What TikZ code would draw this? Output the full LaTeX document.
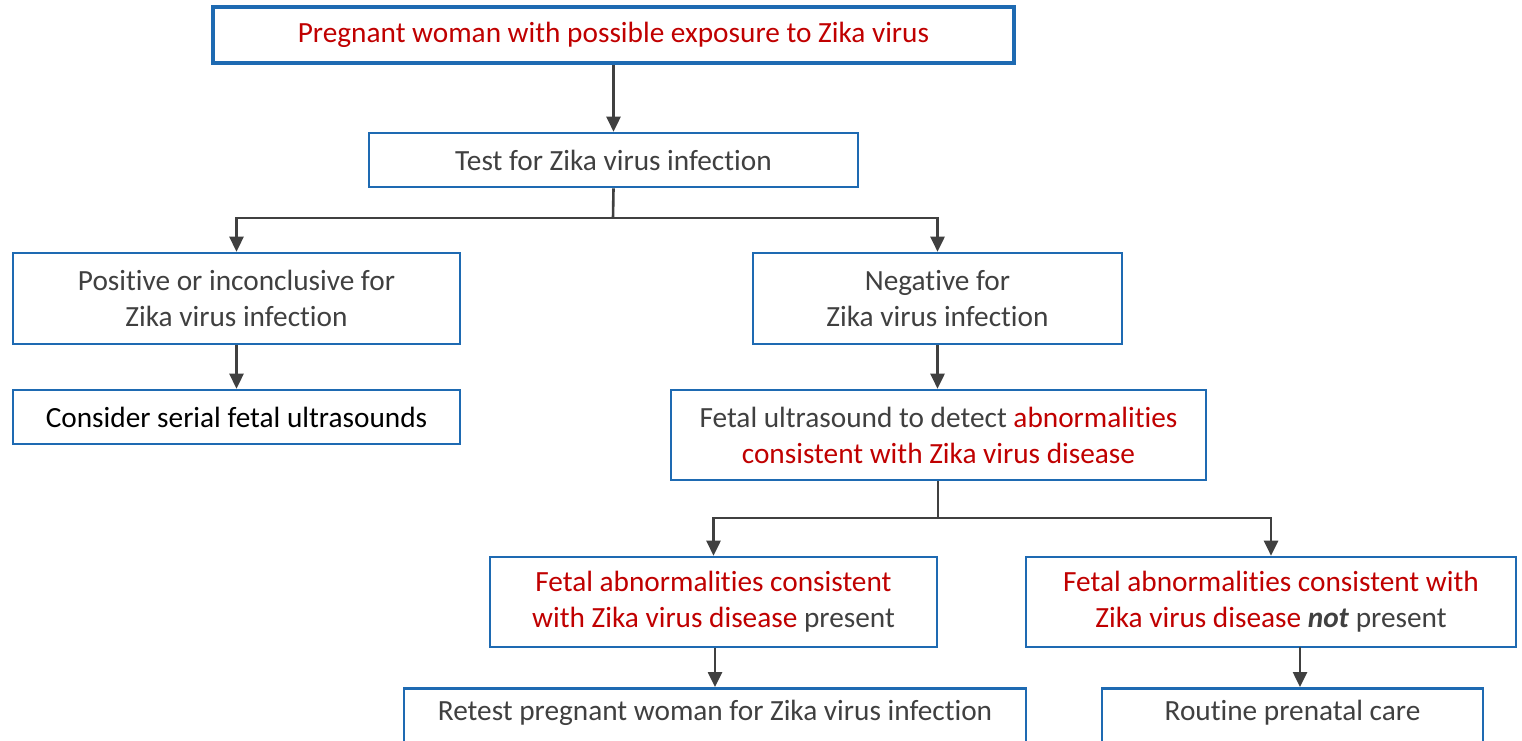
\documentclass[tikz,border=0pt]{standalone}
\usepackage{fontspec}
\setmainfont{Carlito}[Ligatures=NoCommon]
\usetikzlibrary{arrows.meta,positioning}
\definecolor{bblue}{RGB}{30,106,178}
\definecolor{zred}{RGB}{192,0,0}
\definecolor{tgray}{RGB}{64,64,64}
\definecolor{agray}{RGB}{64,64,64}
\tikzset{
  box/.style={draw=bblue, line width=2.6pt, rectangle, inner sep=0pt, align=center,
    text=tgray, font=\fontsize{29.3}{36}\selectfont, fill=white},
  topbox/.style={box, line width=4pt},
  arr/.style={draw=agray, line width=2.6pt, -{Triangle[width=14pt,length=15pt]}},
  conn/.style={draw=agray, line width=2.6pt}
}
\begin{document}
\begin{tikzpicture}[x=1pt,y=-1pt]
\clip (0,0) rectangle (1522,740);
\fill[white] (0,0) rectangle (1522,740);
\node[topbox, minimum width=801pt, minimum height=56pt] (top) at (613.5,35) {\textcolor{zred}{Pregnant woman with possible exposure to Zika virus}};
\node[box, minimum width=489pt, minimum height=54pt] (test) at (613.5,160) {Test for Zika virus infection};
\node[box, minimum width=447pt, minimum height=91pt] (pos) at (236.5,298.5) {Positive or inconclusive for\\Zika virus infection};
\node[box, minimum width=447pt, minimum height=54pt, text=black] (cons) at (236.5,417) {Consider serial fetal ultrasounds};
\node[box, minimum width=369pt, minimum height=91pt] (neg) at (937.5,298.5) {Negative for\\Zika virus infection};
\node[box, minimum width=535pt, minimum height=90pt] (us) at (938.5,435) {Fetal ultrasound to detect \textcolor{zred}{abnormalities}\\\textcolor{zred}{consistent with Zika virus disease}};
\node[box, minimum width=447pt, minimum height=90pt] (pres) at (713.5,602) {\textcolor{zred}{Fetal abnormalities consistent}\\\textcolor{zred}{with Zika virus disease} present};
\node[box, minimum width=490pt, minimum height=90pt] (notp) at (1271,602) {\textcolor{zred}{Fetal abnormalities consistent with}\\\textcolor{zred}{Zika virus disease} \textbf{\textit{not}} present};
\node[box, minimum width=622pt, minimum height=100pt, anchor=north] (retest) at (715,687) {};
\node[font=\fontsize{29.3}{36}\selectfont, text=tgray] (retestt) at (715,713) {Retest pregnant woman for Zika virus infection};
\node[box, minimum width=381pt, minimum height=100pt, anchor=north] (routine) at (1292.5,687) {};
\node[font=\fontsize{29.3}{36}\selectfont, text=tgray] (routinet) at (1292.5,713) {Routine prenatal care};
\coordinate (j1) at (613,218);
\coordinate (j2) at (938,518);
\coordinate (r1) at (1300,647);
\draw[arr] (top) -- (test);
\draw[conn] (test.south) -- (j1);
\draw[arr] (j1) -| (pos.north);
\draw[arr] (j1) -| (neg.north);
\draw[arr] (pos) -- (cons);
\draw[arr] (neg.south) -- (neg.south |- us.north);
\draw[conn] (us.south -| j2) -- (j2);
\draw[arr] (j2) -| (pres.north);
\draw[arr] (j2) -| (notp.north);
\draw[arr] (pres.south -| retest.north) -- (retest.north);
\draw[arr] (r1) -- (r1 |- routine.north);
\end{tikzpicture}
\end{document}
